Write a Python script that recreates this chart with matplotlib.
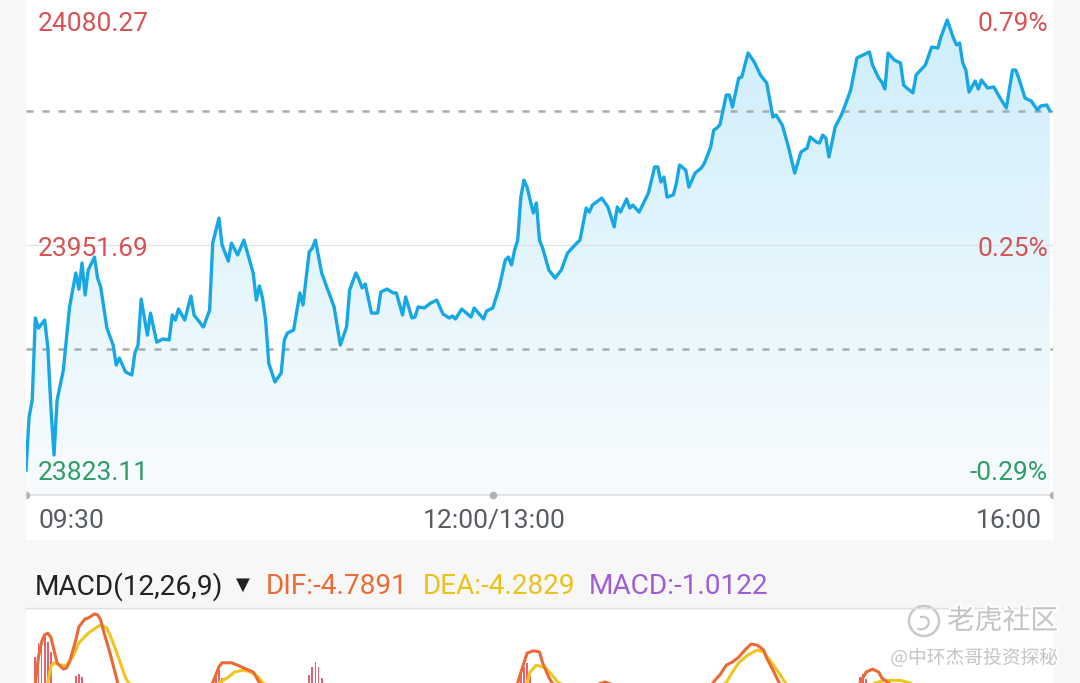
import numpy as np
import matplotlib
matplotlib.use('Agg')
import matplotlib.pyplot as plt
from matplotlib.colors import LinearSegmentedColormap
from matplotlib.patches import Rectangle, Polygon, Circle, Arc
from matplotlib.lines import Line2D
import matplotlib.patheffects as pe

plt.rcParams['font.family'] = ['Roboto', 'DejaVu Sans']

# ---------------- data ----------------
prev_close = 23892.0
price_high = 24080.27
price_low = 23823.11

# trading minutes since 09:30 (lunch 12:00-13:00 collapsed, 150 = 12:00/13:00)
minutes = [0, 1, 2, 3, 4, 6, 7, 8, 9, 10, 12, 14, 16, 17, 18, 19, 20, 22, 23, 24,
           26, 28, 29, 30, 32, 34, 35, 36, 37, 39, 40, 42, 44, 46, 47, 48, 49, 51, 53, 54,
           57, 59, 60, 62, 63, 65, 66, 68, 70, 73, 74, 75, 76, 77, 78, 80, 82, 83, 84, 86,
           88, 89, 91, 92, 93, 95, 99, 101, 103, 104, 106, 107, 108, 109, 111, 113, 114, 116, 118, 119,
           121, 122, 124, 125, 126, 128, 130, 132, 134, 136, 137, 138, 140, 143, 144, 147, 148, 150,
           152, 154, 155, 156, 157, 158, 159, 160, 161, 163, 164, 165, 166, 168, 170, 172, 174, 177, 178,
           180, 181, 182, 185, 187, 189, 190, 191, 193, 194, 195, 197, 200, 202, 203, 204, 205, 206, 208,
           209, 210, 212, 213, 215, 217, 218, 220, 221, 222, 223, 225, 226, 227, 229, 230, 232, 234, 236,
           238, 240, 241, 243, 245, 247, 249, 251, 252, 254, 255, 256, 257, 258, 260, 262, 263, 265, 267,
           269, 271, 272, 274, 275, 276, 277, 279, 281, 282, 283, 285, 286, 289, 291, 293, 294, 296, 298,
           299, 300, 301, 302, 303, 305, 306, 307, 309, 311, 313, 315, 317, 318, 319, 321, 323, 325, 326,
           328, 329]
prices = [23823.1, 23853.6, 23863.1, 23910.0, 23904.2, 23908.8, 23893.4, 23859.1, 23831.7, 23863.1,
          23880.2, 23916.3, 23935.7, 23926.5, 23941.4, 23923.1, 23937.4, 23944.8, 23932.8, 23927.7,
          23904.2, 23894.5, 23883.1, 23887.1, 23879.1, 23877.4, 23890.0, 23894.5, 23920.8, 23900.2,
          23912.8, 23896.2, 23898.0, 23897.4, 23911.7, 23908.8, 23915.1, 23908.8, 23922.5, 23911.7,
          23904.8, 23914.5, 23952.8, 23967.1, 23951.7, 23942.5, 23952.8, 23946.0, 23954.5, 23935.7,
          23920.2, 23928.3, 23921.4, 23908.8, 23884.2, 23873.4, 23878.5, 23897.4, 23901.4, 23903.1,
          23924.3, 23917.4, 23947.7, 23950.0, 23954.5, 23935.7, 23916.3, 23894.5, 23904.8, 23926.0,
          23935.7, 23932.0, 23927.1, 23929.4, 23912.8, 23912.8, 23924.8, 23926.5, 23924.3, 23924.3,
          23911.7, 23922.0, 23910.0, 23910.5, 23916.3, 23915.7, 23918.5, 23920.2, 23912.2, 23910.0,
          23911.1, 23909.4, 23915.1, 23910.5, 23915.7, 23909.4, 23914.0, 23915.7,
          23927.1, 23943.1, 23944.8, 23940.3, 23948.8, 23954.5, 23979.1, 23988.8, 23984.8, 23970.0,
          23975.7, 23954.5, 23950.0, 23937.4, 23932.8, 23937.4, 23947.1, 23952.8, 23954.5,
          23972.8, 23970.5, 23974.5, 23978.5, 23973.4, 23962.0, 23973.4, 23970.5, 23978.0, 23972.8,
          23974.5, 23970.5, 23981.4, 23996.3, 23996.3, 23987.7, 23990.5, 23979.1, 23980.3,
          23987.1, 23997.4, 23994.5, 23984.8, 23992.8, 23995.7, 23998.5, 24007.7, 24017.4, 24018.5,
          24020.5, 24037.4, 24037.4, 24030.5, 24047.1, 24047.7, 24061.4, 24056.3, 24048.8,
          24044.3, 24024.8, 24026.0, 24020.3, 24007.7, 23992.8, 24004.8, 24007.1, 24013.4, 24010.5,
          24010.0, 24014.5, 24012.8, 24002.0, 24019.1, 24026.0, 24030.5, 24040.3, 24058.6,
          24060.3, 24062.0, 24054.6, 24047.1, 24044.8, 24040.8, 24061.4, 24057.4, 24055.7, 24043.1,
          24041.4, 24038.6, 24048.8, 24054.6, 24064.8, 24064.3, 24070.6, 24080.27, 24070.0,
          24066.0, 24067.1, 24055.7, 24051.7, 24039.1, 24045.4, 24040.8, 24046.0, 24041.4, 24042.0,
          24035.7, 24030.0, 24051.7, 24051.7, 24047.1, 24035.7, 24034.0, 24028.8, 24031.1,
          24031.7, 24028.3]

time_labels = ['09:30', '12:00/13:00', '16:00']
time_ticks = [0, 150, 330]

# MACD (only the upper part is visible in the screenshot)
dif_m = [0, 3, 4, 5, 6, 7, 8, 9, 10, 12, 13, 14, 16, 17, 19, 20, 22, 23, 24, 25, 27, 29, 30,
         40, 52, 60, 62, 63, 66, 68, 70, 73, 74, 75, 85, 95, 110, 130, 150,
         158, 160, 161, 163, 165, 166, 168, 169, 178, 183, 186, 189, 200, 212, 218,
         222, 223, 225, 227, 229, 231, 233, 235, 237, 238, 240, 242, 250, 258, 265,
         268, 270, 272, 274, 275, 277, 290, 300, 315, 330]
dif_v = [0, 4.9, 8.1, 10.0, 10.9, 11.1, 10.6, 9.0, 7.4, 6.6, 6.75, 7.5, 10.25, 11.9, 12.9, 13.0, 13.5,
         13.4, 12.75, 11.25, 8.6, 5.6, 4.0,
         1.0, 2.0, 4.9, 6.9, 7.4, 7.4, 7.1, 6.75, 6.25, 5.6, 4.9, 1.0, 3.0, 1.0, -2.0, -1.0,
         4.9, 7.4, 8.6, 8.9, 8.75, 7.4, 5.6, 4.9, 2.5, 4.6, 5.0, 4.6, 2.0, 3.0, 3.5,
         5.5, 5.9, 7.1, 7.5, 8.1, 9.0, 9.75, 9.6, 9.0, 8.0, 6.5, 4.9, 1.0, 0.0, 2.0,
         4.9, 6.25, 6.6, 6.25, 5.5, 4.9, 2.0, 0.0, -3.0, -4.7891]
dea_m = [0, 7, 8, 9, 11, 13, 15, 17, 20, 23, 24, 26, 28, 30, 32, 33, 45, 55,
         62, 65, 67, 70, 73, 75, 76, 90, 110, 130, 150,
         161, 162, 164, 167, 169, 171, 185, 200, 215,
         225, 227, 229, 232, 235, 237, 239, 242, 244, 255, 265,
         273, 276, 281, 284, 300, 330]
dea_v = [0, 4.9, 6.9, 7.4, 7.1, 7.1, 8.1, 9.9, 11.1, 11.9, 12.1, 11.75, 9.9, 7.75, 5.5, 4.9, 2.0, 1.0,
         4.9, 5.6, 6.25, 6.5, 6.1, 5.5, 4.9, 2.5, 1.0, -1.0, -1.0,
         4.9, 6.25, 7.1, 6.75, 5.9, 4.9, 3.0, 2.5, 3.0,
         4.9, 6.25, 7.4, 8.4, 9.0, 8.75, 7.75, 6.1, 4.9, 2.0, 3.0,
         4.9, 5.2, 5.2, 4.9, 1.0, -4.2829]
hist_m = [3, 4, 5, 6, 7, 8, 16, 17, 18, 61, 62, 63, 91, 92, 93, 94, 95,
          158, 159, 160, 161, 162, 268, 269, 270]
hist_v = [8.1, 9.9, 10.5, 10.6, 10.0, 8.75, 5.75, 6.0, 5.6, 6.0, 6.5, 5.5, 5.9, 6.9, 7.5, 6.9, 5.5,
          5.3, 6.3, 6.9, 7.4, 5.8, 5.6, 6.0, 5.4]
dif_last, dea_last, macd_last = -4.7891, -4.2829, -1.0122

# ---------------- layout helpers ----------------
W, H = 1080, 683
fig = plt.figure(figsize=(W / 100, H / 100), dpi=100, facecolor='#f7f7f7')


def fx(px):
    return px / W


def fy(py):
    return 1 - py / H


L, R = 26, 1053
# white panels
fig.add_artist(Rectangle((fx(L), fy(540)), fx(R) - fx(L), fy(0) - fy(540),
                         transform=fig.transFigure, facecolor='white', edgecolor='none', zorder=0))
fig.add_artist(Rectangle((fx(L), fy(H)), fx(R) - fx(L), fy(610) - fy(H),
                         transform=fig.transFigure, facecolor='white', edgecolor='none', zorder=0))

# ---------------- price panel ----------------
ax = fig.add_axes([fx(L), fy(495), fx(R) - fx(L), fy(0) - fy(495)])
ax.set_axis_off()
ppx = (price_high - price_low) / 450.0
ylo = price_low - 25 * ppx
yhi = price_high + 20 * ppx

t = np.array(minutes, dtype=float)
p = np.array(prices, dtype=float)

cmap = LinearSegmentedColormap.from_list('g', ['#cdedfb', '#f8fcfe'])
im = ax.imshow(np.linspace(0, 1, 256)[:, None], extent=[0, 330, ylo, yhi], origin='upper',
               aspect='auto', cmap=cmap, zorder=1, interpolation='bilinear')
verts = [(t[0], ylo)] + list(zip(t, p)) + [(t[-1], ylo)]
poly = Polygon(verts, closed=True, facecolor='none', edgecolor='none')
ax.add_patch(poly)
im.set_clip_path(poly)

mid = (price_high + price_low) / 2
ax.axhline(mid, color='#dde4e8', lw=0.9, zorder=2)
ax.axhline(prev_close, color='#a9a9a9', lw=1.8, dashes=(2.8, 3.6), zorder=2)
ax.axhline(p[-1], color='#a9a9a9', lw=1.8, dashes=(2.8, 3.6), zorder=2)
ax.plot(t, p, color='#17a8e4', lw=2.4, zorder=3, solid_joinstyle='round')
ax.axhline(ylo, color='#e3e3e3', lw=1.3, zorder=2, clip_on=False)
ax.plot([time_ticks[0]], [ylo], marker='o', ms=5.5, color='#b3b3b3', fillstyle='right',
        markeredgewidth=0, clip_on=False, zorder=4)
ax.plot([time_ticks[1]], [ylo], marker='o', ms=5.5, color='#b3b3b3',
        markeredgewidth=0, clip_on=False, zorder=4)
ax.plot([time_ticks[2]], [ylo], marker='o', ms=5.5, color='#b3b3b3', fillstyle='left',
        markeredgewidth=0, clip_on=False, zorder=4)
ax.set_xlim(0, 330)
ax.set_ylim(ylo, yhi)

red = '#d75252'
green = '#2f9d68'
fs = 19


def pct(v):
    return '%.2f%%' % ((v / prev_close - 1) * 100)


for val, py, col in [(price_high, 24, red), (mid, 249, red), (price_low, 473, green)]:
    fig.text(fx(38), fy(py), '%.2f' % val, ha='left', va='center', fontsize=fs, color=col)
    fig.text(fx(1048), fy(py), pct(val), ha='right', va='center', fontsize=fs, color=col)

tcol = '#575c63'
fig.text(fx(38), fy(521), time_labels[0], ha='left', va='center', fontsize=fs, color=tcol)
fig.text(fx(494), fy(521), time_labels[1], ha='center', va='center', fontsize=fs, color=tcol)
fig.text(fx(1042), fy(521), time_labels[2], ha='right', va='center', fontsize=fs, color=tcol)

# ---------------- MACD header ----------------
hfs = 20.2
fig.text(fx(35), fy(587), 'MACD(12,26,9)', ha='left', va='center', fontsize=hfs, color='#222222')
fig.text(fx(243), fy(585), '▼', ha='center', va='center', fontsize=13, color='#222222',
         family=['DejaVu Sans'])
fig.text(fx(266), fy(587), 'DIF:%.4f' % dif_last, ha='left', va='center', fontsize=hfs, color='#ec6a33')
fig.text(fx(423), fy(587), 'DEA:%.4f' % dea_last, ha='left', va='center', fontsize=hfs, color='#e9c31b')
fig.text(fx(589), fy(587), 'MACD:%.4f' % macd_last, ha='left', va='center', fontsize=hfs, color='#a05dd4')
fig.add_artist(Line2D([fx(L), fx(R)], [fy(608), fy(608)], color='#e2e2e2', lw=1.0,
                      transform=fig.transFigure))

# ---------------- MACD panel ----------------
ax2 = fig.add_axes([fx(L), fy(800), fx(R) - fx(L), fy(610) - fy(800)])
ax2.set_axis_off()
ax2.bar(hist_m, hist_v, width=0.55, color='#e5616d', zorder=1)
ax2.plot(dif_m, dif_v, color='#ea6a35', lw=2.2, zorder=3)
ax2.plot(dea_m, dea_v, color='#f0c51c', lw=2.2, zorder=2)
ax2.set_xlim(0, 330)
ax2.set_ylim(14 - 190 / 8.0, 14)

# ---------------- watermark ----------------
halo = [pe.withStroke(linewidth=3, foreground='white')]
fig.text(fx(1058), fy(621), '老虎社区', ha='right', va='center', fontsize=20,
         family=['Noto Sans CJK SC'], color='#c4c4c4', path_effects=halo)
fig.text(fx(1058), fy(658), '@中环杰哥投资探秘', ha='right', va='center', fontsize=13.5,
         family=['Noto Sans CJK SC', 'DejaVu Sans'], color='#c4c4c4', path_effects=halo)
fig.add_artist(Circle((9.24, (H - 621) / 100), 0.15, transform=fig.dpi_scale_trans,
                      facecolor='none', edgecolor='#c8c8c8', lw=1.8))
fig.add_artist(Arc((9.22, (H - 623) / 100), 0.14, 0.12, angle=30, theta1=200, theta2=80,
                   transform=fig.dpi_scale_trans, edgecolor='#c8c8c8', lw=1.6))

fig.savefig('out.png', dpi=100, facecolor=fig.get_facecolor())
